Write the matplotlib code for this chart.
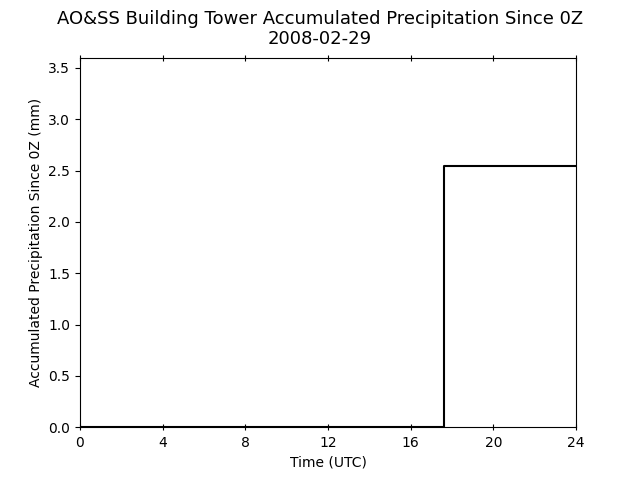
import matplotlib
matplotlib.use('Agg')
import matplotlib.pyplot as plt

# hourly time (UTC) and accumulated precipitation (mm)
time_utc = [0.0, 17.6, 24.0]
precip_mm = [0.0, 2.54, 2.54]
xticks = [0, 4, 8, 12, 16, 20, 24]

fig, ax = plt.subplots(figsize=(6.4, 4.8), dpi=100)
ax.plot(time_utc, precip_mm, color='k', lw=1.5, drawstyle='steps-post')

ax.set_xlim(0, 24)
ax.set_ylim(0, 3.6)
ax.set_xticks(xticks)
ax.tick_params(axis='x', direction='inout', top=True, length=5)
ax.set_xlabel('Time (UTC)')
ax.set_ylabel('Accumulated Precipitation Since 0Z (mm)')
fig.suptitle('AO&SS Building Tower Accumulated Precipitation Since 0Z\n2008-02-29',
             fontsize=13)

fig.savefig('out.png')
